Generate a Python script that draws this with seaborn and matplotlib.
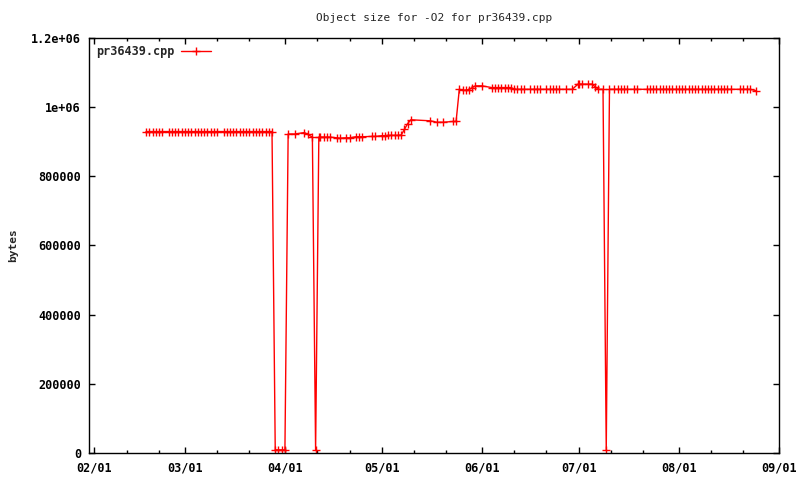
import pandas as pd
import matplotlib
matplotlib.use("Agg")
import matplotlib.pyplot as plt
import matplotlib.dates as mdates
import seaborn as sns

# Object size per nightly run
dates = [
    # Feb / Mar, flat ~929k then dip to ~10k
    "2009-02-17", "2009-02-18", "2009-02-19", "2009-02-20", "2009-02-21", "2009-02-22",
    "2009-02-24", "2009-02-25", "2009-02-26", "2009-02-27", "2009-02-28",
    "2009-03-01", "2009-03-02", "2009-03-03", "2009-03-04", "2009-03-05", "2009-03-06",
    "2009-03-07", "2009-03-08", "2009-03-09", "2009-03-10", "2009-03-11", "2009-03-13",
    "2009-03-14", "2009-03-15", "2009-03-16", "2009-03-17", "2009-03-18", "2009-03-19",
    "2009-03-20", "2009-03-21", "2009-03-22", "2009-03-23", "2009-03-24", "2009-03-25",
    "2009-03-26", "2009-03-27", "2009-03-28",
    "2009-03-29", "2009-03-30", "2009-03-31", "2009-04-01",
    # April
    "2009-04-02", "2009-04-04", "2009-04-07", "2009-04-08", "2009-04-09 12:00",
    "2009-04-10 12:00", "2009-04-11 12:00", "2009-04-12", "2009-04-13", "2009-04-14",
    "2009-04-15", "2009-04-17", "2009-04-18", "2009-04-20", "2009-04-21", "2009-04-23",
    "2009-04-24", "2009-04-25", "2009-04-28", "2009-04-29",
    # May
    "2009-05-01", "2009-05-02", "2009-05-03", "2009-05-04", "2009-05-05", "2009-05-06",
    "2009-05-07", "2009-05-08", "2009-05-09", "2009-05-10", "2009-05-16", "2009-05-18",
    "2009-05-20", "2009-05-23", "2009-05-24", "2009-05-25", "2009-05-26", "2009-05-27",
    "2009-05-28", "2009-05-29", "2009-05-30", "2009-06-01",
    # June
    "2009-06-04", "2009-06-05", "2009-06-06", "2009-06-07", "2009-06-08", "2009-06-09",
    "2009-06-10", "2009-06-11", "2009-06-12", "2009-06-13", "2009-06-14", "2009-06-16",
    "2009-06-17", "2009-06-18", "2009-06-19", "2009-06-21", "2009-06-22", "2009-06-23",
    "2009-06-24", "2009-06-25", "2009-06-27", "2009-06-29", "2009-06-30 18:00",
    # July
    "2009-07-01", "2009-07-02", "2009-07-04", "2009-07-05", "2009-07-06", "2009-07-07",
    "2009-07-08 12:00", "2009-07-09 12:00", "2009-07-10 12:00", "2009-07-12", "2009-07-13",
    "2009-07-14", "2009-07-15", "2009-07-16", "2009-07-18", "2009-07-19", "2009-07-22",
    "2009-07-23", "2009-07-24", "2009-07-25", "2009-07-26", "2009-07-27", "2009-07-28",
    "2009-07-29", "2009-07-30", "2009-07-31",
    # August
    "2009-08-01", "2009-08-02", "2009-08-03", "2009-08-04", "2009-08-05", "2009-08-06",
    "2009-08-07", "2009-08-08", "2009-08-09", "2009-08-10", "2009-08-11", "2009-08-12",
    "2009-08-13", "2009-08-14", "2009-08-15", "2009-08-16", "2009-08-17", "2009-08-20",
    "2009-08-21", "2009-08-22", "2009-08-23", "2009-08-25",
]

sizes = [
    929000, 929000, 929000, 929000, 929000, 929000,
    929000, 929000, 929000, 929000, 929000,
    929000, 929000, 929000, 929000, 929000, 929000,
    929000, 929000, 929000, 929000, 929000, 929000,
    929000, 929000, 929000, 929000, 929000, 929000,
    929000, 929000, 929000, 929000, 929000, 929000,
    929000, 929000, 929000,
    10000, 10000, 10000, 10000,
    922000, 922000, 926000, 921000, 913000,
    10000, 913000, 913000, 913000, 913000,
    913000, 911000, 910000, 911000, 911000, 914000,
    914000, 914000, 915000, 915000,
    917000, 917000, 918000, 918000, 918000, 918000,
    919000, 935000, 952000, 963000, 960000, 956000,
    956000, 958000, 958000, 1051000, 1048000, 1049000,
    1050000, 1056000, 1061000, 1061000,
    1056000, 1056000, 1056000, 1056000, 1056000, 1056000,
    1056000, 1051000, 1051000, 1051000, 1051000, 1051000,
    1051000, 1051000, 1051000, 1051000, 1051000, 1051000,
    1051000, 1051000, 1051000, 1051000, 1066000,
    1066000, 1066000, 1066000, 1066000, 1059000, 1051000,
    1051000, 10000, 1051000, 1051000, 1051000,
    1051000, 1051000, 1051000, 1051000, 1051000, 1051000,
    1051000, 1051000, 1051000, 1051000, 1051000, 1051000,
    1051000, 1051000, 1051000,
    1051000, 1051000, 1051000, 1051000, 1051000, 1051000,
    1051000, 1051000, 1051000, 1051000, 1051000, 1051000,
    1051000, 1051000, 1051000, 1051000, 1051000, 1051000,
    1051000, 1051000, 1051000, 1047000,
]

y_ticks = [0, 200000, 400000, 600000, 800000, 1000000, 1200000]
y_tick_labels = ["0", "200000", "400000", "600000", "800000", "1e+06", "1.2e+06"]

df = pd.DataFrame({"date": pd.to_datetime(dates, format="ISO8601"), "size": sizes})

sns.set_style("ticks")
plt.rcParams["font.family"] = ["DejaVu Sans Mono"]
plt.rcParams["font.weight"] = "bold"

fig = plt.figure(figsize=(8, 4.8), dpi=100)
ax = fig.add_axes([0.1116, 0.0556, 0.8625, 0.8659])

sns.lineplot(data=df, x="date", y="size", color="red", linewidth=1,
             marker="+", markersize=6, markeredgewidth=1, markeredgecolor="red",
             label="pr36439.cpp", ax=ax)

ax.set_xlim(pd.Timestamp("2009-01-30 10:00"), pd.Timestamp("2009-09-01 02:00"))
ax.set_ylim(0, 1200000)
ax.set_yticks(y_ticks)
ax.set_yticklabels(y_tick_labels)

ax.xaxis.set_major_locator(mdates.MonthLocator())
ax.xaxis.set_minor_locator(mdates.DayLocator(bymonthday=[11, 21]))
ax.xaxis.set_major_formatter(mdates.DateFormatter("%m/%d"))

ax.tick_params(which="both", direction="in", top=True, right=True, colors="black",
               labelsize=8.5, width=1)
ax.tick_params(which="major", length=4, pad=6)
ax.tick_params(which="minor", length=2)
for s in ax.spines.values():
    s.set_visible(True)
    s.set_linewidth(1)
    s.set_color("black")

ax.set_xlabel("")
ax.set_ylabel("bytes", fontsize=8, fontweight="bold", labelpad=9)
ax.set_title("Object size for -O2 for pr36439.cpp", fontsize=8, fontweight="normal", pad=12)

ax.legend(loc="upper left", frameon=False, markerfirst=False, handlelength=2.6,
          handletextpad=0.5, borderaxespad=0.2, prop={"size": 8.5, "weight": "bold"})

fig.savefig("out.png", dpi=100)
